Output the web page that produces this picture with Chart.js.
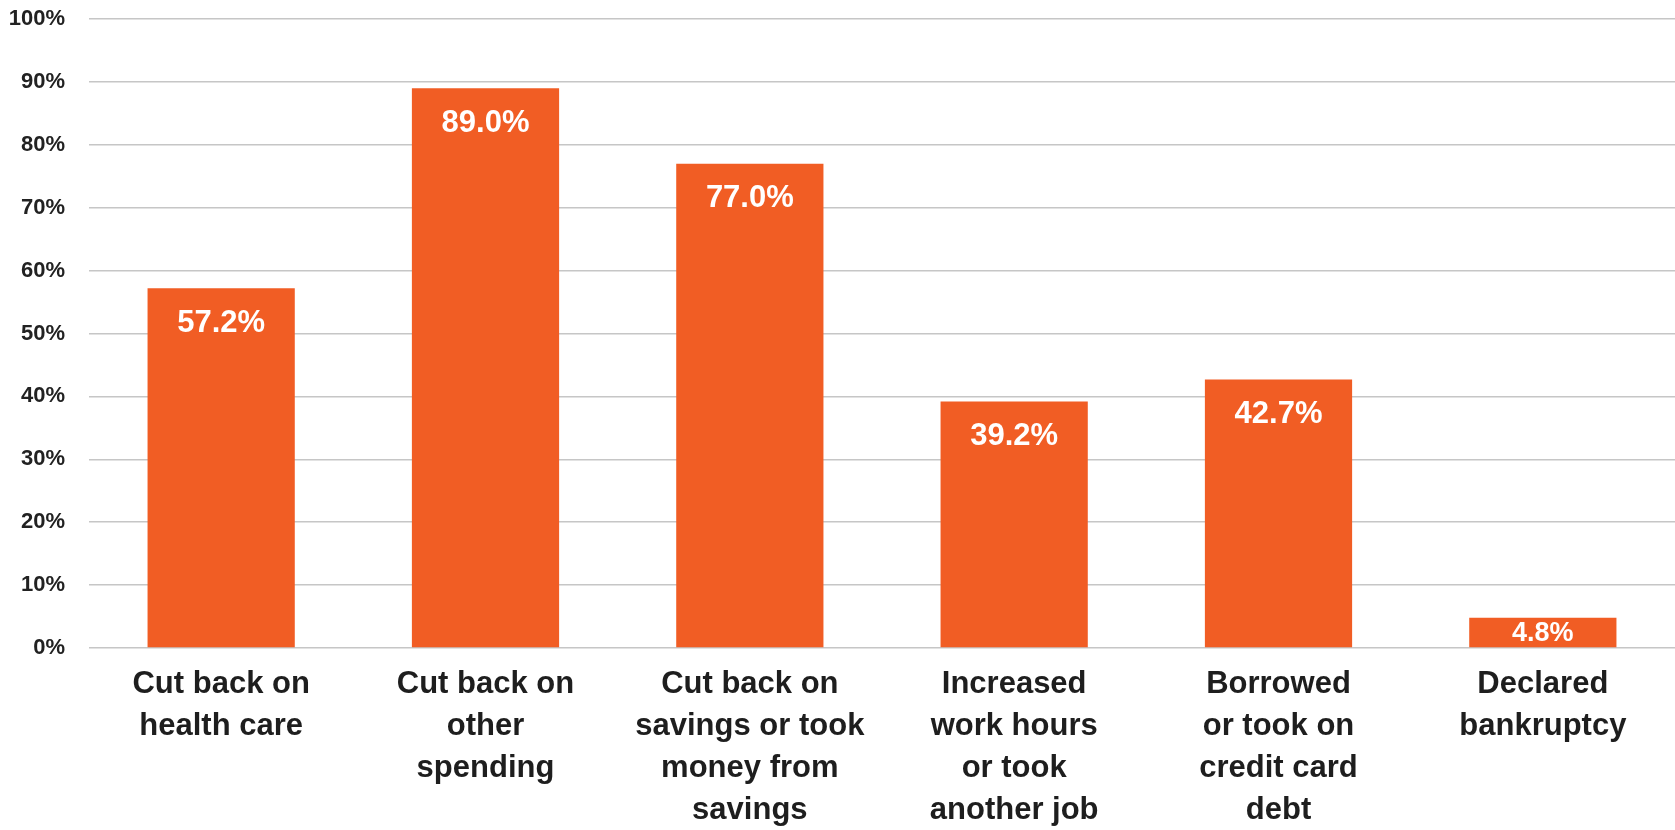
<!DOCTYPE html>
<html>
<head>
<meta charset="utf-8">
<script src="https://cdn.jsdelivr.net/npm/chart.js@4.4.1/dist/chart.umd.min.js"></script>
<style>
  html, body { margin: 0; padding: 0; background: #ffffff; }
  #wrap { width: 1675px; height: 830px; position: relative; }
</style>
</head>
<body>
<div id="wrap"><canvas id="c" width="1675" height="830"></canvas></div>
<script>
const categories = [
  ["Cut back on", "health care"],
  ["Cut back on", "other", "spending"],
  ["Cut back on", "savings or took", "money from", "savings"],
  ["Increased", "work hours", "or took", "another job"],
  ["Borrowed", "or took on", "credit card", "debt"],
  ["Declared", "bankruptcy"]
];
const shares = [57.2, 89.0, 77.0, 39.2, 42.7, 4.8];
const yTicks = [0, 10, 20, 30, 40, 50, 60, 70, 80, 90, 100];

const FONT = '"Liberation Sans Narrow", "Arial Narrow", "Liberation Sans", Arial, sans-serif';
const BAR = '#F15D24';

const valueLabels = {
  id: 'valueLabels',
  afterDatasetsDraw(chart) {
    const ctx = chart.ctx;
    const meta = chart.getDatasetMeta(0);
    ctx.save();
    ctx.fillStyle = '#ffffff';
    ctx.textAlign = 'center';
    ctx.textBaseline = 'middle';
    meta.data.forEach((bar, i) => {
      const h = bar.base - bar.y;
      const size = h < 60 ? 27 : 31;
      ctx.font = 'bold ' + size + 'px ' + FONT;
      const y = Math.min(bar.y + 35, bar.base - 14);
      ctx.fillText(shares[i].toFixed(1) + '%', bar.x, y);
    });
    ctx.restore();
  }
};

new Chart(document.getElementById('c'), {
  type: 'bar',
  data: {
    labels: categories,
    datasets: [{
      data: shares,
      backgroundColor: BAR,
      borderWidth: 0,
      barPercentage: 0.557,
      categoryPercentage: 1.0
    }]
  },
  options: {
    responsive: false,
    animation: false,
    devicePixelRatio: 1,
    layout: { padding: { top: 19, right: 0, bottom: 0, left: 0 } },
    plugins: { legend: { display: false }, tooltip: { enabled: false } },
    scales: {
      x: {
        grid: { display: false, drawTicks: false },
        border: { display: false },
        ticks: {
          color: '#1e1e1e',
          font: { family: FONT, size: 31, weight: 'bold', lineHeight: 1.35 },
          padding: 16,
          maxRotation: 0,
          autoSkip: false
        },
        afterFit(scale) { scale.height = 182; }
      },
      y: {
        min: 0,
        max: 100,
        afterBuildTicks(scale) { scale.ticks = yTicks.map(v => ({ value: v })); },
        grid: { color: '#c6c6c6', lineWidth: 1.5, drawTicks: true, tickLength: 24, tickColor: 'rgba(0,0,0,0)' },
        border: { display: false },
        ticks: {
          color: '#222222',
          font: { family: FONT, size: 22, weight: 'bold' },
          padding: 0,
          callback: v => v + '%'
        },
        afterFit(scale) { scale.width = 89; }
      }
    }
  },
  plugins: [valueLabels]
});
</script>
</body>
</html>
